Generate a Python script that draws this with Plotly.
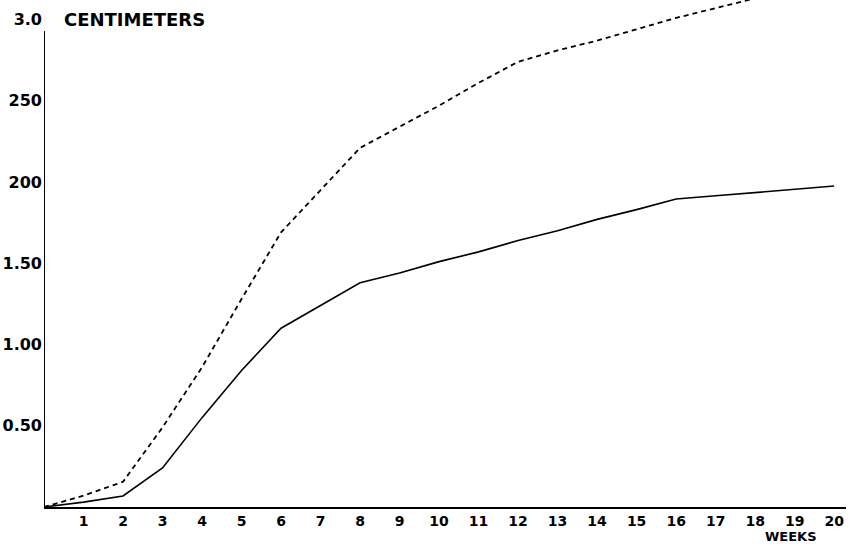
import plotly.graph_objects as go

weeks = list(range(0, 21))
solid_cm = [0.0, 0.03, 0.068, 0.24, 0.55, 0.84, 1.10, 1.24, 1.38, 1.44, 1.51, 1.57, 1.64,
            1.70, 1.77, 1.83, 1.895, 1.915, 1.935, 1.955, 1.975]
dashed_weeks = list(range(0, 19))
dashed_cm = [0.0, 0.07, 0.155, 0.49, 0.86, 1.28, 1.69, 1.95, 2.21, 2.34, 2.47, 2.61, 2.74,
             2.81, 2.87, 2.94, 3.01, 3.07, 3.13]

y_tickvals = [0.5, 1.0, 1.5, 2.0, 2.5, 3.0]
y_ticktext = ["0.50", "1.00", "1.50", "200", "250", "3.0"]
x_tickvals = list(range(1, 21))
x_ticktext = [str(v) for v in x_tickvals]

FONT = "DejaVu Sans"
YTICKFONT = dict(family=FONT, size=16, color="black", weight="bold")
XTICKFONT = dict(family=FONT, size=14, color="black", weight="bold")

fig = go.Figure()
fig.add_trace(go.Scatter(x=dashed_weeks, y=dashed_cm, mode="lines",
                         line=dict(color="black", width=1.8, dash="5px,4px"),
                         showlegend=False, hoverinfo="skip"))
fig.add_trace(go.Scatter(x=weeks, y=solid_cm, mode="lines",
                         line=dict(color="black", width=1.6),
                         showlegend=False, hoverinfo="skip"))

fig.update_layout(
    width=850, height=544,
    margin=dict(l=44, r=4, t=0, b=37, autoexpand=False),
    paper_bgcolor="white", plot_bgcolor="white",
    font=dict(family=FONT, color="black", size=14),
    xaxis=dict(range=[0, 20.3], tickvals=x_tickvals, ticktext=x_ticktext,
               automargin=False,
               showgrid=False, zeroline=False, showline=True, linecolor="black",
               linewidth=2, ticks="", ticklabelstandoff=0,
               tickfont=XTICKFONT),
    yaxis=dict(range=[0, 3.12], tickvals=y_tickvals, ticktext=y_ticktext,
               automargin=False,
               showgrid=False, zeroline=False, showline=False,
               ticks="", ticklabelstandoff=1,
               tickfont=YTICKFONT),
    shapes=[dict(type="line", xref="x", yref="y", x0=0, x1=0, y0=0, y1=2.93,
                 line=dict(color="black", width=2))],
    annotations=[
        dict(text="CENTIMETERS", xref="x", yref="y", x=0.45, y=3.0,
             xanchor="left", yanchor="middle", showarrow=False,
             font=dict(family=FONT, size=18, color="black", weight="bold")),
        dict(text="WEEKS", xref="x", yref="paper", x=18.9, y=0,
             xanchor="center", yanchor="top", yshift=-21, showarrow=False,
             borderpad=0,
             font=dict(family=FONT, size=13, color="black", weight="bold")),
    ],
)

fig.write_html("out.html",
               config={"displayModeBar": False},
               post_script="document.body.style.margin='0';document.body.style.overflow='hidden';")
